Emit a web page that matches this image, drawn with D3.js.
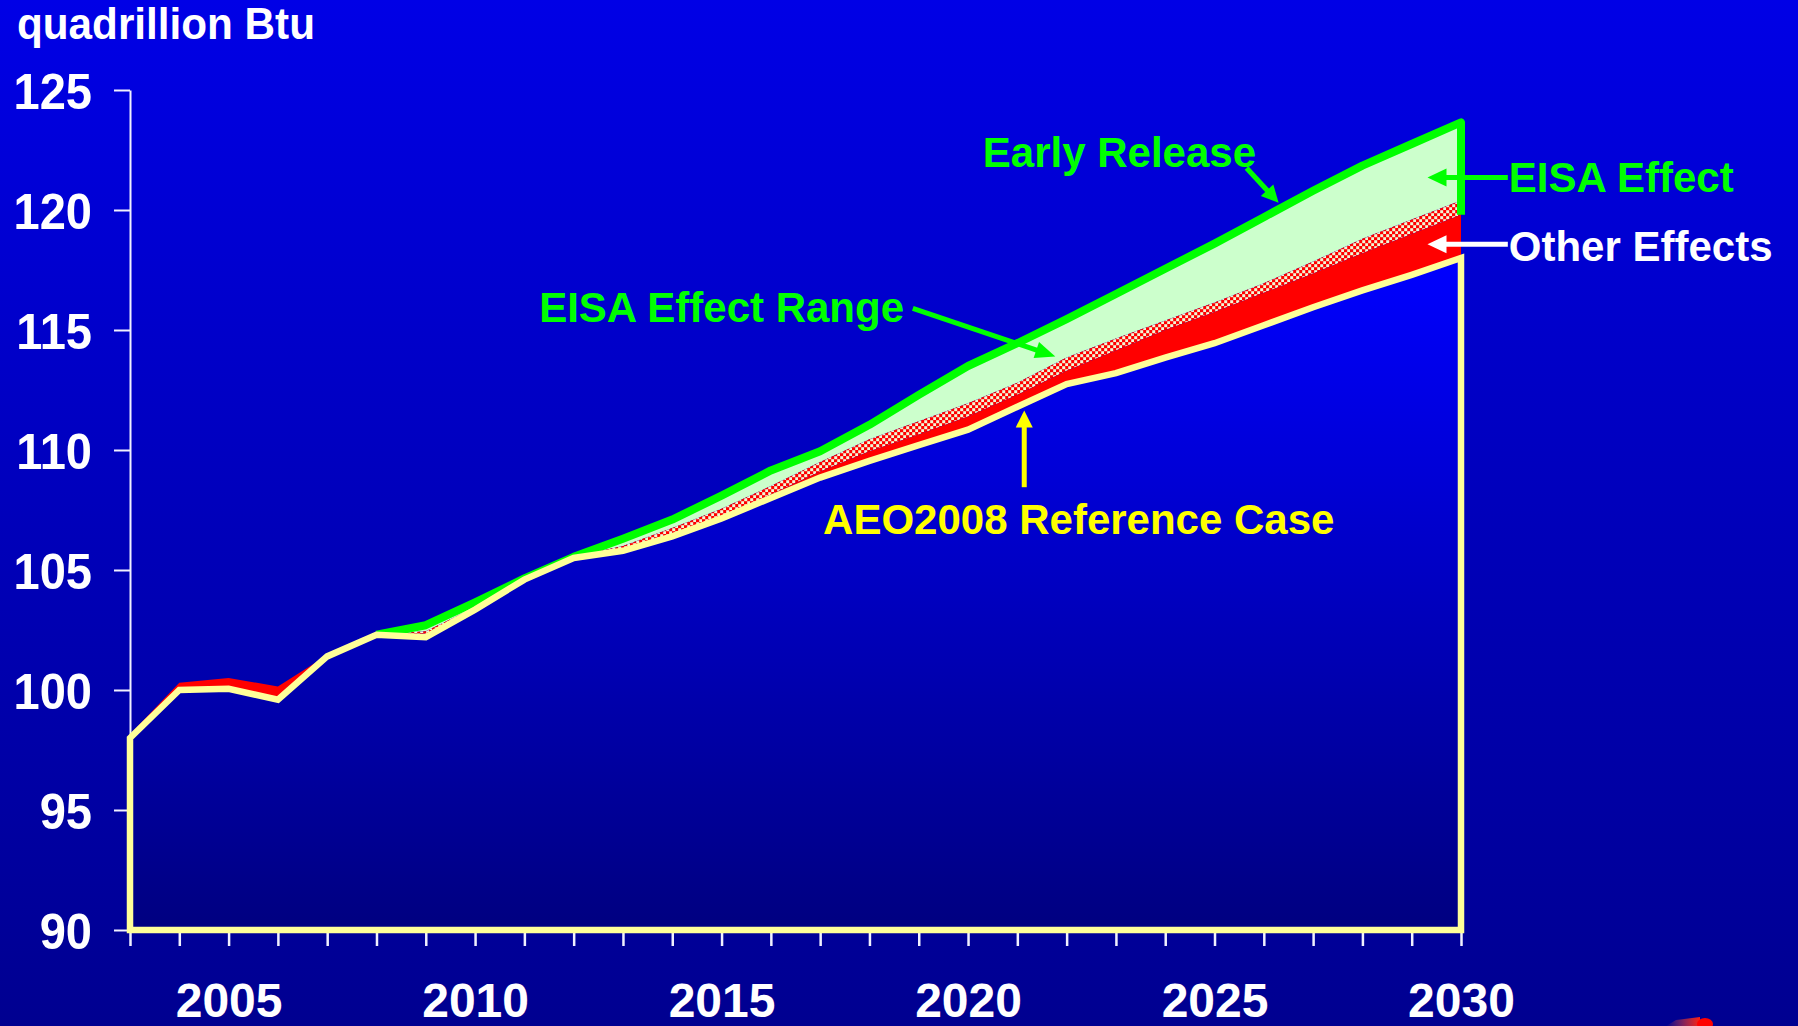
<!DOCTYPE html>
<html>
<head>
<meta charset="utf-8">
<script src="https://cdn.jsdelivr.net/npm/d3@7"></script>
<style>
  html, body { margin: 0; padding: 0; overflow: hidden; background: #000090; }
  svg { display: block; }
  text { font-family: "Liberation Sans", Arial, Helvetica, sans-serif; font-weight: bold; }
</style>
</head>
<body>
<svg id="chart" width="1798" height="1026"></svg>
<script>
// ---- data (quadrillion Btu) ----
const years = [2003, 2004, 2005, 2006, 2007, 2008, 2009, 2010, 2011, 2012,
               2013, 2014, 2015, 2016, 2017, 2018, 2019, 2020, 2021, 2022,
               2023, 2024, 2025, 2026, 2027, 2028, 2029, 2030];

// AEO2008 Reference Case
const reference = [98.0, 100.0, 100.05, 99.6, 101.4, 102.3, 102.2, 103.35, 104.6, 105.5,
                   105.8, 106.4, 107.15, 108.0, 108.85, 109.55, 110.2, 110.85, 111.8, 112.75,
                   113.2, 113.85, 114.45, 115.2, 115.95, 116.65, 117.3, 118.0];

// Top of the "Other Effects" band
const otherEffectsTop = [98.15, 100.3, 100.5, 100.15, 101.45, 102.3, 102.35, 103.4, 104.6, 105.5,
                         105.85, 106.45, 107.2, 108.15, 109.1, 109.95, 110.65, 111.4, 112.3, 113.3,
                         114.15, 115.0, 115.75, 116.55, 117.35, 118.2, 119.0, 119.8];

// Top of the EISA effect range band
const eisaRangeTop = [98.15, 100.3, 100.5, 100.15, 101.45, 102.3, 102.45, 103.45, 104.65, 105.55,
                      106.0, 106.75, 107.55, 108.5, 109.5, 110.45, 111.2, 111.95, 112.8, 113.85,
                      114.65, 115.4, 116.15, 116.95, 117.85, 118.8, 119.6, 120.4];

// AEO2008 Early Release
const earlyRelease = [null, null, null, null, null, 102.3, 102.7, 103.65, 104.65, 105.55,
                      106.3, 107.1, 108.1, 109.15, 109.95, 111.05, 112.3, 113.5, 114.45, 115.45,
                      116.5, 117.55, 118.6, 119.7, 120.8, 121.85, 122.75, 123.65];

const yTickValues = [90, 95, 100, 105, 110, 115, 120, 125];
const xTickLabels = [2005, 2010, 2015, 2020, 2025, 2030];

// ---- layout ----
const W = 1798, H = 1026;
const svg = d3.select("#chart");
const x = d3.scaleLinear().domain([2003, 2030]).range([130, 1461]);
const y = d3.scaleLinear().domain([90, 125]).range([930, 90]);

const rows = years.map((yr, i) => ({
  year: yr, ref: reference[i], other: otherEffectsTop[i],
  range: eisaRangeTop[i], early: earlyRelease[i]
}));

// ---- defs: gradients and the dotted fill ----
const defs = svg.append("defs");
const bg = defs.append("linearGradient").attr("id", "bgGrad")
  .attr("x1", 0).attr("y1", 0).attr("x2", 0).attr("y2", 1);
bg.append("stop").attr("offset", "0%").attr("stop-color", "#0000E6");
bg.append("stop").attr("offset", "100%").attr("stop-color", "#000090");

const plotGrad = defs.append("linearGradient").attr("id", "plotGrad")
  .attr("gradientUnits", "userSpaceOnUse")
  .attr("x1", 0).attr("x2", 0).attr("y1", y(118)).attr("y2", y(90));
plotGrad.append("stop").attr("offset", "0%").attr("stop-color", "#0000FF");
plotGrad.append("stop").attr("offset", "100%").attr("stop-color", "#000080");

const pat = defs.append("pattern").attr("id", "dots")
  .attr("patternUnits", "userSpaceOnUse").attr("width", 6).attr("height", 6);
pat.append("rect").attr("width", 6).attr("height", 6).attr("fill", "#FF0000");
pat.append("rect").attr("x", 0.2).attr("y", 0.2).attr("width", 3).attr("height", 3).attr("fill", "#F0F8D8");
pat.append("rect").attr("x", 3.2).attr("y", 3.2).attr("width", 3).attr("height", 3).attr("fill", "#F0F8D8");

const smear = defs.append("linearGradient").attr("id", "smear")
  .attr("x1", 0).attr("y1", 0).attr("x2", 1).attr("y2", 0);
smear.append("stop").attr("offset", "0%").attr("stop-color", "#FF6040").attr("stop-opacity", 0);
smear.append("stop").attr("offset", "100%").attr("stop-color", "#FF2010").attr("stop-opacity", 1);

// ---- background ----
svg.append("rect").attr("width", W).attr("height", H).attr("fill", "url(#bgGrad)");

// ---- stacked bands ----
const earlyRows = rows.filter(d => d.early !== null);

// EISA effect (light green) between range top and early release
svg.append("path")
  .datum(earlyRows)
  .attr("d", d3.area().x(d => x(d.year)).y0(d => y(d.range)).y1(d => y(d.early)))
  .attr("fill", "#CCFFCC");

// EISA effect range (dotted)
svg.append("path")
  .datum(rows)
  .attr("d", d3.area().x(d => x(d.year)).y0(d => y(d.other)).y1(d => y(d.range)))
  .attr("fill", "url(#dots)");

// Other effects (red)
svg.append("path")
  .datum(rows)
  .attr("d", d3.area().x(d => x(d.year)).y0(d => y(d.ref)).y1(d => y(d.other)))
  .attr("fill", "#FF0000");

// Early release outline: top line plus the closing edge at 2030
const last = rows[rows.length - 1];
const earlyPath = d3.line().x(d => x(d.year)).y(d => y(d.early))(earlyRows)
  + "L" + x(last.year) + "," + y(last.other);
svg.append("path")
  .attr("d", earlyPath)
  .attr("fill", "none")
  .attr("stroke", "#00FF00")
  .attr("stroke-width", 8)
  .attr("stroke-linejoin", "round");

// squeeze a text horizontally by a factor, keeping its font height
function squeeze(sel, k) {
  sel.each(function () {
    const len = this.getComputedTextLength();
    if (len > 0) d3.select(this).attr("textLength", len * k).attr("lengthAdjust", "spacingAndGlyphs");
  });
}

// ---- axes ----
const axisColor = "#F0F0FF";
const yAxis = svg.append("g")
  .attr("transform", `translate(${x(2003)},0)`)
  .call(d3.axisLeft(y).tickValues(yTickValues).tickSize(16).tickSizeOuter(0).tickPadding(22));
yAxis.select(".domain").attr("stroke", axisColor).attr("stroke-width", 2);
yAxis.selectAll(".tick line").attr("stroke", axisColor).attr("stroke-width", 2);
yAxis.selectAll(".tick text")
  .attr("fill", "#FFFFFF").attr("font-size", 50).attr("dy", "0.36em")
  .style("font-family", "'Liberation Sans', Arial, sans-serif").style("font-weight", "bold")
  .call(squeeze, 0.94);

const xAxis = svg.append("g")
  .attr("transform", `translate(0,${y(90)})`)
  .call(d3.axisBottom(x).tickValues(years).tickSize(16).tickSizeOuter(0)
    .tickFormat(d => xTickLabels.includes(d) ? String(d) : ""));
xAxis.select(".domain").attr("stroke", axisColor).attr("stroke-width", 2);
xAxis.selectAll(".tick line").attr("stroke", axisColor).attr("stroke-width", 2.5);
xAxis.selectAll(".tick text")
  .attr("fill", "#FFFFFF").attr("font-size", 48).attr("y", 87).attr("dy", 0)
  .style("font-family", "'Liberation Sans', Arial, sans-serif").style("font-weight", "bold");

// ---- reference case area with its yellow outline ----
svg.append("path")
  .datum(rows)
  .attr("d", d3.area().x(d => x(d.year)).y0(y(90)).y1(d => y(d.ref)))
  .attr("fill", "url(#plotGrad)")
  .attr("stroke", "#FFFF99")
  .attr("stroke-width", 6.5)
  .attr("stroke-linejoin", "miter");

// ---- annotations ----
function arrow(x1, y1, x2, y2, color, width, headLen, headW) {
  const dx = x2 - x1, dy = y2 - y1, len = Math.hypot(dx, dy);
  const ux = dx / len, uy = dy / len;
  const bx = x2 - ux * headLen, by = y2 - uy * headLen;
  svg.append("line")
    .attr("x1", x1).attr("y1", y1).attr("x2", bx + ux * 1).attr("y2", by + uy * 1)
    .attr("stroke", color).attr("stroke-width", width);
  const px = -uy * headW / 2, py = ux * headW / 2;
  svg.append("path")
    .attr("d", `M${x2},${y2}L${bx + px},${by + py}L${bx - px},${by - py}Z`)
    .attr("fill", color);
}

function label(txt, xx, yy, color) {
  svg.append("text").attr("x", xx).attr("y", yy)
    .attr("fill", color).attr("font-size", 42).text(txt);
}

// unit label
svg.append("text").attr("x", 17).attr("y", 39)
  .attr("fill", "#FFFFFF").attr("font-size", 44).text("quadrillion Btu")
  .call(squeeze, 0.96);

// Early Release
label("Early Release", x(2020.3), y(121.8), "#00FF00");
arrow(x(2025.65), y(121.75), x(2026.3), y(120.3), "#00FF00", 5, 17, 17);

// EISA Effect
label("EISA Effect", x(2030.97), y(120.75), "#00FF00");
arrow(x(2030.95), y(121.35), x(2029.32), y(121.35), "#00FF00", 5, 19, 18);

// Other Effects
label("Other Effects", x(2030.97), y(117.88), "#FFFFFF");
arrow(x(2030.95), y(118.57), x(2029.32), y(118.57), "#FFFFFF", 5, 19, 18);

// EISA Effect Range
label("EISA Effect Range", x(2011.3), y(115.35), "#00FF00");
arrow(x(2018.88), y(115.9), x(2021.77), y(113.9), "#00FF00", 5, 20, 17);

// AEO2008 Reference Case
label("AEO2008 Reference Case", x(2017.06), y(106.52), "#FFFF00");
arrow(x(2021.14), y(108.45), x(2021.14), y(111.65), "#FFFF00", 5, 17, 17);

// small red mark at the lower right corner
svg.append("path")
  .attr("d", "M1666,1026L1676,1020L1700,1017L1700,1026Z")
  .attr("fill", "url(#smear)");
svg.append("ellipse").attr("cx", 1705).attr("cy", 1024).attr("rx", 8).attr("ry", 6)
  .attr("fill", "#FF0000");
</script>
</body>
</html>
